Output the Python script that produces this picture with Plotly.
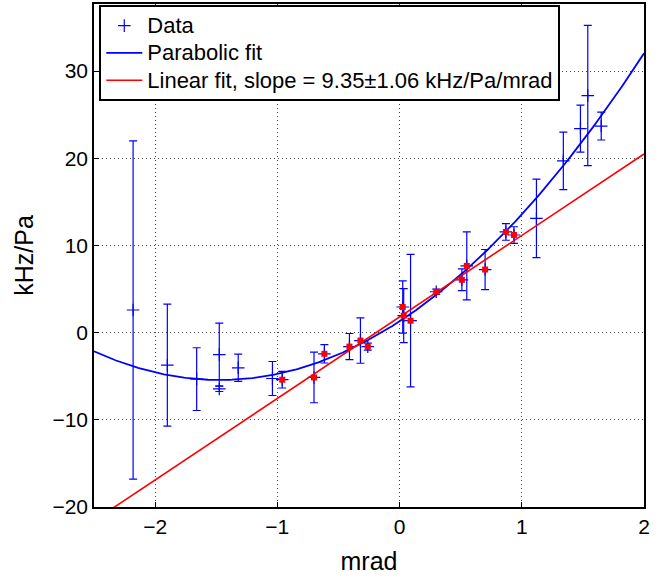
import numpy as np
import plotly.graph_objects as go

# Data
x_data = [-2.18, -1.90, -1.66, -1.475, -1.475, -1.32, -1.04, -0.96, -0.70, -0.615,
          -0.41, -0.32, -0.26, 0.026, 0.034, 0.09, 0.30, 0.51, 0.55, 0.70,
          0.87, 0.936, 1.12, 1.34, 1.48, 1.54, 1.65]
y_data = [2.6, -3.73, -5.33, -2.51, -6.45, -4.03, -5.26, -5.4, -5.14, -2.43,
          -1.6, -0.91, -1.6, 2.94, 1.95, 1.37, 4.69, 6.06, 7.66, 7.24,
          11.55, 11.2, 13.1, 19.7, 23.4, 27.2, 23.7]
y_err = [19.4, 7.0, 3.6, 3.6, 0.3, 1.57, 1.95, 0.95, 2.9, 1.05,
         1.5, 2.6, 0.4, 3.0, 3.1, 7.6, 0.3, 1.25, 3.9, 2.3,
         0.95, 0.95, 4.5, 3.3, 2.7, 8.05, 1.6]

# Fit parameters
parab_coef = [3.11, 9.15, 1.3]   # c2, c1, c0
lin_slope = 9.35
lin_intercept = 1.8
fit_range = 1.0  # |x| < 1 points used for linear fit (red squares)

x_range = [-2.5, 2]
y_range = [-20, 37.7]
x_ticks = [-2, -1, 0, 1, 2]
y_ticks = [-20, -10, 0, 10, 20, 30]

legend_names = ["Data", "Parabolic fit", "Linear fit, slope = 9.35\u00b11.06 kHz/Pa/mrad"]

xf = np.linspace(x_range[0], x_range[1], 300)
y_par = np.polyval(parab_coef, xf)
y_lin = lin_slope * xf + lin_intercept

x_sel = [x for x in x_data if abs(x) < fit_range]
y_sel = [y for x, y in zip(x_data, y_data) if abs(x) < fit_range]

FONT = "Liberation Sans, Arial, Helvetica, sans-serif"


def big(s):
    return '<span style="font-size:22px">' + s + '</span>'


fig = go.Figure()
fig.add_trace(go.Scatter(
    x=x_data, y=y_data, mode="markers", name=big(legend_names[0]),
    marker=dict(symbol="cross-thin", size=9, color="blue",
                line=dict(color="blue", width=1.2)),
    error_y=dict(type="data", array=y_err, visible=True, color="blue",
                 thickness=1.2, width=4),
))
fig.add_trace(go.Scatter(
    x=xf, y=y_par, mode="lines", name=big(legend_names[1]),
    line=dict(color="blue", width=1.8),
))
fig.add_trace(go.Scatter(
    x=xf, y=y_lin, mode="lines", name=big(legend_names[2]),
    line=dict(color="red", width=1.6),
))
fig.add_trace(go.Scatter(
    x=x_sel, y=y_sel, mode="markers", showlegend=False,
    marker=dict(symbol="square", size=6, color="red"),
))

axis_common = dict(
    showline=True, linecolor="black", linewidth=1.5, mirror=True,
    ticks="inside", ticklen=5, tickcolor="black",
    showgrid=True, gridcolor="#444444", griddash="1px,3px", gridwidth=1,
    zeroline=False,
    tickfont=dict(family=FONT, size=21, color="black"),
)

fig.update_layout(
    width=667, height=581,
    margin=dict(l=94, r=23, t=2, b=74),
    paper_bgcolor="white", plot_bgcolor="white",
    font=dict(family=FONT, size=21, color="black"),
    xaxis=dict(range=x_range, tickvals=x_ticks, title=dict(text="mrad", standoff=16),
               **axis_common),
    yaxis=dict(range=y_range, tickvals=y_ticks, title=dict(text="kHz/Pa", standoff=12),
               **axis_common),
    legend=dict(x=0.0096, y=0.998, xanchor="left", yanchor="top",
                bgcolor="white", bordercolor="black", borderwidth=2,
                font=dict(family=FONT, size=18.7), tracegroupgap=0, itemwidth=36),
    showlegend=True,
)

fig.write_html("out.html", config={"displayModeBar": False},
               post_script="document.body.style.margin='0px';")
